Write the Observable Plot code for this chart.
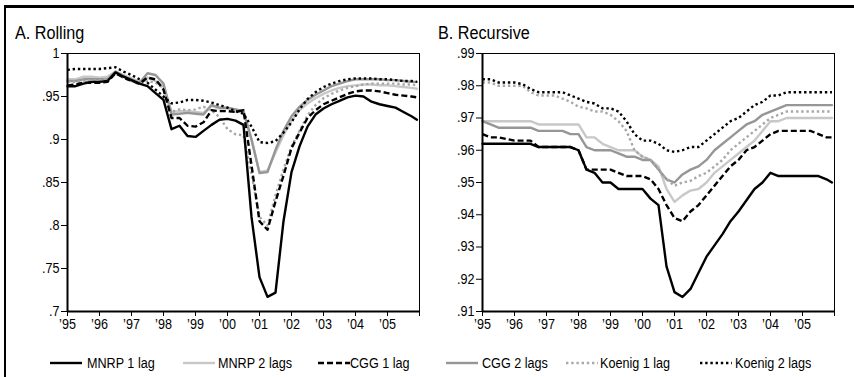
<!DOCTYPE html>
<html>
<head>
<meta charset="utf-8">
<script src="https://cdn.jsdelivr.net/npm/d3@7"></script>
<script src="https://cdn.jsdelivr.net/npm/@observablehq/plot@0.6"></script>
<style>
  html, body { margin: 0; padding: 0; background: #fff; }
  #root { position: relative; width: 854px; height: 377px; overflow: hidden; font-family: 'Liberation Sans', Arial, sans-serif; color: #000; }
  #frame { position: absolute; left: 4px; top: 5px; width: 900px; height: 400px; border-top: 3px solid #000; border-left: 2px solid #000; }
  .title { position: absolute; font-size: 18px; top: 23px; transform: scaleX(0.9); transform-origin: 0 0; white-space: nowrap; }
  .panel { position: absolute; top: 0; }
  .leg { position: absolute; top: 355px; font-size: 14px; white-space: nowrap; transform: scaleX(0.9); transform-origin: 0 0; }
  .legline { position: absolute; top: 361px; }
</style>
</head>
<body>
<div id="root">
  <div id="frame"></div>
  <div class="title" style="left:15px">A. Rolling</div>
  <div class="title" style="left:438px">B. Recursive</div>
  <div id="pA" class="panel" style="left:0px"></div>
  <div id="pB" class="panel" style="left:430px"></div>
  <div id="legend"></div>
</div>
<script>
// quarterly time grid (fractional years)
const t = [1995.00,1995.25,1995.50,1995.75,1996.00,1996.25,1996.50,1996.75,1997.00,1997.25,1997.50,1997.75,
  1998.00,1998.25,1998.50,1998.75,1999.00,1999.25,1999.50,1999.75,2000.00,2000.25,2000.50,2000.75,
  2001.00,2001.25,2001.50,2001.75,2002.00,2002.25,2002.50,2002.75,2003.00,2003.25,2003.50,2003.75,
  2004.00,2004.25,2004.50,2004.75,2005.00,2005.25,2005.50,2005.75,2005.92];

const seriesNames = ["MNRP 1 lag","MNRP 2 lags","CGG 1 lag","CGG 2 lags","Koenig 1 lag","Koenig 2 lags"];
const xTickYears = [1995,1996,1997,1998,1999,2000,2001,2002,2003,2004,2005,2006];
const yTicksA = [0.7,0.75,0.8,0.85,0.9,0.95,1];
const yTicksB = [0.91,0.92,0.93,0.94,0.95,0.96,0.97,0.98,0.99];

// Panel A: Rolling
const rollMNRP1 = [.962,.962,.965,.967,.967,.968,.978,.973,.969,.965,.962,.954,.946,.912,.916,.904,.903,.910,.917,.923,.924,.922,.917,.810,.740,.717,.722,.805,.862,.892,.915,.929,.936,.941,.945,.949,.951,.950,.944,.941,.939,.937,.932,.927,.923];
const rollMNRP2 = [.970,.970,.973,.973,.972,.973,.979,.975,.971,.967,.972,.968,.962,.932,.933,.933,.932,.931,.939,.936,.936,.935,.932,.900,.862,.864,.885,.905,.922,.934,.942,.948,.953,.957,.960,.962,.963,.964,.964,.963,.963,.962,.961,.960,.959];
const rollCGG1 = [.963,.964,.966,.966,.966,.967,.977,.972,.968,.965,.972,.970,.958,.925,.925,.916,.915,.920,.934,.933,.933,.932,.934,.870,.805,.795,.828,.858,.890,.908,.925,.934,.941,.945,.949,.953,.956,.957,.957,.956,.954,.952,.951,.950,.949];
const rollCGG2 = [.968,.968,.970,.970,.970,.970,.979,.974,.970,.966,.977,.975,.965,.929,.930,.931,.930,.929,.940,.937,.937,.935,.933,.900,.861,.862,.888,.910,.927,.938,.946,.952,.957,.962,.965,.968,.970,.970,.970,.970,.969,.969,.968,.967,.967];
const rollKoenig1 = [.967,.967,.968,.969,.969,.970,.977,.972,.968,.964,.968,.966,.960,.932,.935,.934,.935,.938,.934,.926,.912,.906,.905,.860,.810,.800,.835,.865,.892,.910,.928,.940,.948,.953,.957,.960,.962,.964,.965,.965,.965,.965,.964,.964,.963];
const rollKoenig2 = [.981,.982,.982,.982,.982,.983,.984,.979,.975,.970,.966,.958,.950,.942,.943,.946,.946,.945,.943,.940,.937,.933,.930,.915,.897,.896,.898,.908,.920,.935,.947,.955,.961,.965,.968,.970,.971,.971,.971,.970,.970,.969,.968,.968,.967];

// Panel B: Recursive
const recMNRP1 = [.962,.962,.962,.962,.962,.962,.962,.961,.961,.961,.961,.961,.960,.954,.953,.950,.950,.948,.948,.948,.948,.945,.943,.924,.916,.9145,.917,.922,.927,.9305,.934,.938,.941,.9445,.948,.950,.953,.952,.952,.952,.952,.952,.952,.951,.950];
const recMNRP2 = [.969,.969,.969,.969,.969,.969,.969,.968,.968,.968,.968,.968,.968,.964,.964,.962,.961,.960,.960,.960,.958,.957,.955,.948,.944,.946,.9475,.948,.950,.953,.955,.957,.959,.961,.963,.966,.969,.969,.970,.970,.970,.970,.970,.970,.970];
const recCGG1 = [.965,.964,.964,.9635,.963,.963,.963,.961,.961,.961,.961,.961,.960,.954,.954,.954,.954,.953,.952,.952,.952,.951,.948,.943,.939,.938,.941,.943,.946,.949,.952,.955,.957,.960,.961,.963,.965,.966,.966,.966,.966,.966,.965,.964,.964];
const recCGG2 = [.969,.968,.967,.967,.967,.967,.967,.966,.966,.966,.966,.965,.965,.961,.960,.960,.960,.959,.958,.958,.957,.957,.954,.951,.950,.9525,.954,.955,.957,.960,.962,.964,.966,.968,.969,.971,.972,.973,.974,.974,.974,.974,.974,.974,.974];
const recKoenig1 = [.981,.981,.980,.980,.980,.980,.978,.977,.977,.977,.976,.975,.9735,.973,.972,.972,.971,.969,.966,.960,.958,.957,.954,.951,.949,.950,.9505,.952,.953,.955,.957,.960,.962,.964,.966,.968,.970,.971,.972,.972,.972,.972,.972,.972,.972];
const recKoenig2 = [.982,.982,.981,.981,.981,.9805,.979,.978,.978,.978,.978,.977,.976,.975,.9745,.973,.973,.972,.969,.965,.963,.963,.962,.960,.9595,.960,.961,.961,.963,.965,.967,.969,.970,.972,.974,.975,.977,.977,.978,.978,.978,.978,.978,.978,.978];

const styles = {
  "MNRP 1 lag":   {stroke: "#000", dash: null},
  "MNRP 2 lags":  {stroke: "#c8c8c8", dash: null},
  "CGG 1 lag":    {stroke: "#000", dash: "6,3"},
  "CGG 2 lags":   {stroke: "#969696", dash: null},
  "Koenig 1 lag": {stroke: "#a8a8a8", dash: "2.4,2.8"},
  "Koenig 2 lags":{stroke: "#000", dash: "2.4,2.8"}
};
const drawOrder = ["MNRP 2 lags","CGG 2 lags","Koenig 1 lag","Koenig 2 lags","CGG 1 lag","MNRP 1 lag"];

const dataA = {"MNRP 1 lag": rollMNRP1, "MNRP 2 lags": rollMNRP2, "CGG 1 lag": rollCGG1, "CGG 2 lags": rollCGG2, "Koenig 1 lag": rollKoenig1, "Koenig 2 lags": rollKoenig2};
const dataB = {"MNRP 1 lag": recMNRP1, "MNRP 2 lags": recMNRP2, "CGG 1 lag": recCGG1, "CGG 2 lags": recCGG2, "Koenig 1 lag": recKoenig1, "Koenig 2 lags": recKoenig2};

const yFmt = d => d3.format("~g")(d).replace(/^0/, "");
const xFmt = d => d < 2006 ? "\u2019" + String(d).slice(2) : "";

function panel(data, yDomain, yTicks, width, ml, mr) {
  const marks = [];
  for (const name of drawOrder) {
    const st = styles[name];
    const rows = t.map((x, i) => ({x, y: data[name][i]}));
    marks.push(Plot.line(rows, {
      x: "x", y: "y", stroke: st.stroke, strokeWidth: 2.4,
      strokeDasharray: st.dash, strokeLinecap: st.dash ? "butt" : "round", strokeLinejoin: "round"
    }));
  }
  marks.push(Plot.frame({stroke: "#000", strokeWidth: 1}));
  marks.push(Plot.ruleX([1995], {stroke: "#000", strokeWidth: 2}));
  marks.push(Plot.ruleY([yDomain[0]], {stroke: "#000", strokeWidth: 2}));
  marks.push(Plot.axisY(yTicks, {tickSize: 6, tickPadding: 2, tickFormat: yFmt, fontSize: 14, label: null}));
  marks.push(Plot.axisX(xTickYears, {tickSize: 5, tickPadding: 3, tickFormat: xFmt, fontSize: 14, label: null}));
  const svg = Plot.plot({
    width, height: 340,
    marginTop: 53, marginBottom: 29, marginLeft: ml, marginRight: mr,
    x: {domain: [1995, 2006]},
    y: {domain: yDomain},
    style: {fontFamily: "'Liberation Sans', Arial, sans-serif", fontSize: "14px", color: "#000", background: "transparent", overflow: "visible"},
    marks
  });
  // condense tick labels horizontally (narrow typeface look)
  svg.querySelectorAll('g[aria-label$="tick label"] text').forEach(el => {
    const tr = el.getAttribute("transform") || "";
    el.setAttribute("transform", tr + " scale(0.9,1)");
  });
  return svg;
}

document.getElementById("pA").appendChild(panel(dataA, [0.7, 1], yTicksA, 430, 67, 11));
document.getElementById("pB").appendChild(panel(dataB, [0.91, 0.99], yTicksB, 424, 52, 20));

// legend
const legLineX = [50, 183, 318, 446, 566, 700];
const legTextX = [87, 218, 350, 482, 600, 735];
const leg = document.getElementById("legend");
seriesNames.forEach((name, i) => {
  const st = styles[name];
  const ns = "http://www.w3.org/2000/svg";
  const svg = document.createElementNS(ns, "svg");
  svg.setAttribute("width", 32); svg.setAttribute("height", 4);
  svg.setAttribute("class", "legline");
  svg.style.left = legLineX[i] + "px";
  const ln = document.createElementNS(ns, "line");
  ln.setAttribute("x1", 0); ln.setAttribute("x2", 32); ln.setAttribute("y1", 2); ln.setAttribute("y2", 2);
  ln.setAttribute("stroke", st.stroke); ln.setAttribute("stroke-width", 2.4);
  if (st.dash) ln.setAttribute("stroke-dasharray", st.dash);
  svg.appendChild(ln);
  leg.appendChild(svg);
  const tx = document.createElement("div");
  tx.className = "leg"; tx.style.left = legTextX[i] + "px"; tx.textContent = name;
  leg.appendChild(tx);
});
</script>
</body>
</html>
